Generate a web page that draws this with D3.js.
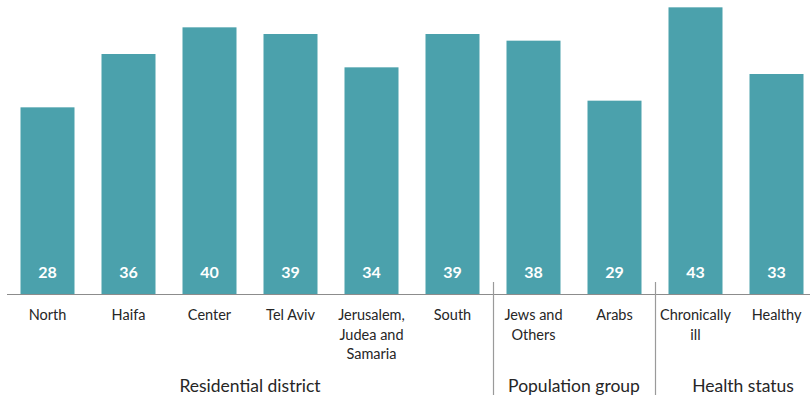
<!DOCTYPE html>
<html>
<head>
<meta charset="utf-8">
<script src="https://cdn.jsdelivr.net/npm/d3@7"></script>
<style>
  body { margin: 0; background: #fff; }
  svg { display: block; font-family: Lato, "Open Sans", sans-serif; }
</style>
</head>
<body>
<svg id="chart" width="810" height="401"></svg>
<script>
// Share of respondents (%) by subgroup
const categories = [
  "North", "Haifa", "Center", "Tel Aviv", "Jerusalem,|Judea and|Samaria", "South",
  "Jews and|Others", "Arabs", "Chronically|ill", "Healthy"
];
const values = [28, 36, 40, 39, 34, 39, 38, 29, 43, 33];
const groupNames = ["Residential district", "Population group", "Health status"];
const groupOf = [0, 0, 0, 0, 0, 0, 1, 1, 2, 2];

const svg = d3.select("#chart");
const baseY = 294;

const x = d3.scaleBand()
  .domain(d3.range(categories.length))
  .range([7, 817])
  .paddingInner(27 / 81)
  .paddingOuter(13.5 / 81);

const y = d3.scaleLinear().domain([0, 44.1]).range([baseY, 0]);

const barColor = "#4ba1ac";

// bars
svg.append("g").selectAll("rect")
  .data(values)
  .join("rect")
  .attr("x", (d, i) => x(i))
  .attr("y", d => y(d))
  .attr("width", x.bandwidth())
  .attr("height", d => baseY - y(d))
  .attr("fill", barColor);

// value labels inside bars
svg.append("g").selectAll("text")
  .data(values)
  .join("text")
  .attr("x", (d, i) => x(i) + x.bandwidth() / 2)
  .attr("y", baseY - 16)
  .attr("text-anchor", "middle")
  .attr("fill", "#fff")
  .attr("font-weight", "bold")
  .attr("font-size", 16)
  .text(d => d);

// baseline
svg.append("line")
  .attr("x1", 7).attr("x2", 810)
  .attr("y1", baseY + 0.5).attr("y2", baseY + 0.5)
  .attr("stroke", "#8c8c8c").attr("stroke-width", 1.2);

// category labels (multi-line)
const catG = svg.append("g");
categories.forEach((c, i) => {
  const t = catG.append("text")
    .attr("x", x(i) + x.bandwidth() / 2)
    .attr("y", 320)
    .attr("text-anchor", "middle")
    .attr("fill", "#262626")
    .attr("font-size", 14.5);
  c.split("|").forEach((line, k) => {
    t.append("tspan")
      .attr("x", x(i) + x.bandwidth() / 2)
      .attr("dy", k === 0 ? 0 : 19.5)
      .text(line);
  });
});

// group separators
const sepIdx = [];
for (let i = 1; i < categories.length; i++) {
  if (groupOf[i] !== groupOf[i - 1]) sepIdx.push(i);
}
svg.append("g").selectAll("line")
  .data(sepIdx)
  .join("line")
  .attr("x1", i => Math.round(x(i) - (x.step() - x.bandwidth()) / 2) + 0.5)
  .attr("x2", i => Math.round(x(i) - (x.step() - x.bandwidth()) / 2) + 0.5)
  .attr("y1", 282).attr("y2", 395)
  .attr("stroke", "#9a9a9a").attr("stroke-width", 1.2);

// group labels
svg.append("g").selectAll("text")
  .data(groupNames)
  .join("text")
  .attr("x", (g, gi) => {
    const idx = d3.range(categories.length).filter(i => groupOf[i] === gi);
    const first = x(idx[0]), last = x(idx[idx.length - 1]) + x.bandwidth();
    return (first + last) / 2 + (gi === 2 ? 7 : 0);
  })
  .attr("y", 392)
  .attr("text-anchor", "middle")
  .attr("fill", "#262626")
  .attr("font-size", 17.5)
  .text(g => g);
</script>
</body>
</html>
